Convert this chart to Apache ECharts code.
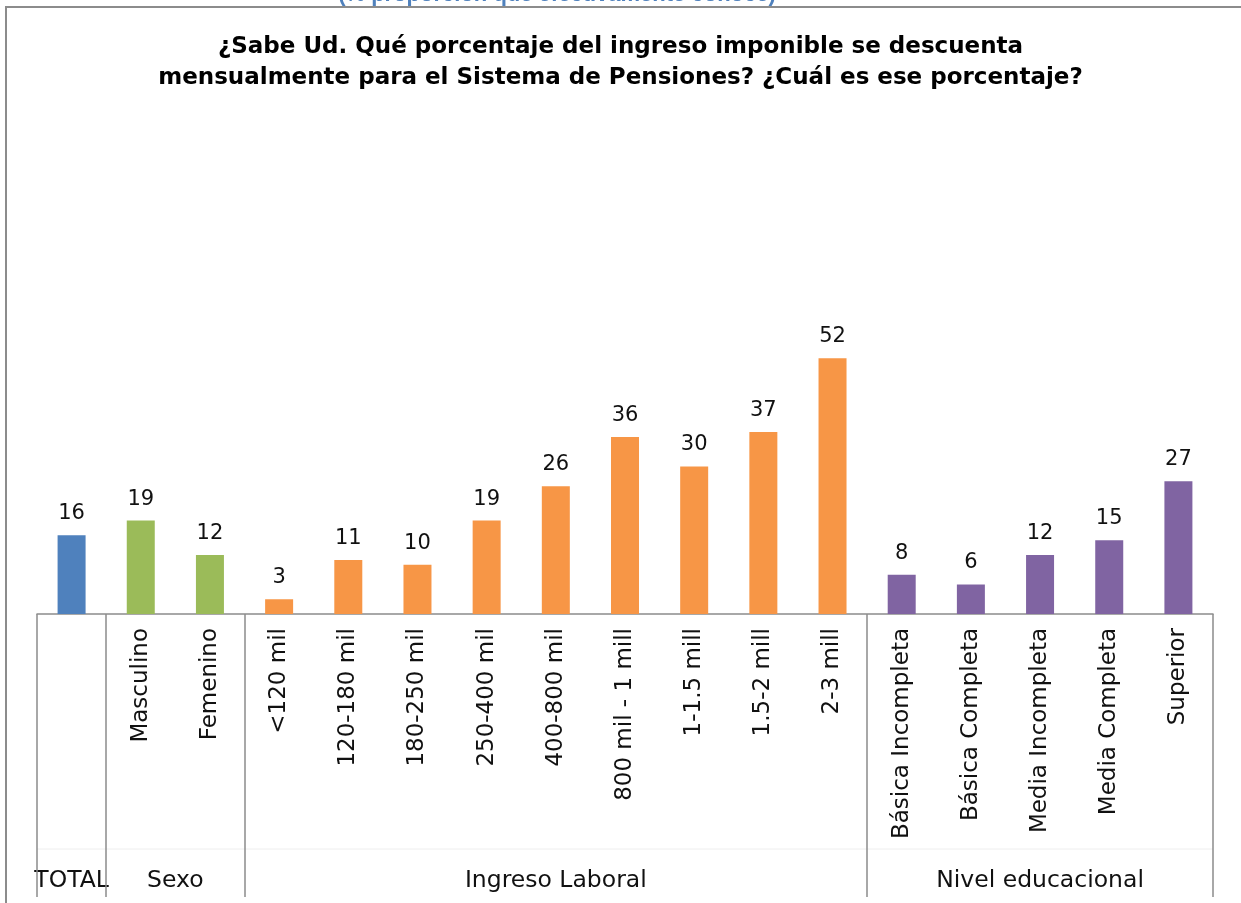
<!DOCTYPE html>
<html><head><meta charset="utf-8">
<script src="https://cdn.jsdelivr.net/npm/echarts@6/dist/echarts.min.js"></script>
<style>html,body{margin:0;padding:0;background:#fff}#c{width:1241px;height:903px}</style>
</head><body><div id="c"></div>
<script>
const categories = ['TOTAL','Masculino','Femenino','<120 mil','120-180 mil','180-250 mil','250-400 mil','400-800 mil','800 mil - 1 mill','1-1.5 mill','1.5-2 mill','2-3 mill','Básica Incompleta','Básica Completa','Media Incompleta','Media Completa','Superior'];
const values = [16,19,12,3,11,10,19,26,36,30,37,52,8,6,12,15,27];
const groupNames = ['TOTAL','Sexo','Ingreso Laboral','Nivel educacional'];
const groupStart = [0,1,3,12];
const groupEnd = [0,2,11,16];
const groupColors = ['#4F81BD','#9BBB59','#F79646','#8064A2'];
const titleText = '¿Sabe Ud. Qué porcentaje del ingreso imponible se descuenta\nmensualmente para el Sistema de Pensiones? ¿Cuál es ese porcentaje?';
const topText = '(% proporción que efectivamente conoce)';

function colorFor(i){ for(let g=0; g<groupStart.length; g++){ if(i>=groupStart[g] && i<=groupEnd[g]) return groupColors[g]; } return '#000'; }

const FONT = '"DejaVu Sans", sans-serif';
const chart = echarts.init(document.getElementById('c'), null, {renderer:'canvas'});
const option = {
  animation:false,
  backgroundColor:'#fff',
  title:{text:titleText,left:'center',top:27,textStyle:{fontFamily:'"DejaVu Sans", sans-serif',fontWeight:'bold',fontSize:23,lineHeight:31,color:'#000'}},
  grid:{left:37,right:28,top:319,bottom:289,containLabel:false},
  xAxis:{type:'category',data:categories,
    axisLine:{show:true,lineStyle:{color:'#8c8c8c',width:1.5}},
    axisTick:{show:true,length:283,lineStyle:{color:'#8c8c8c',width:1.5},interval:function(i){return groupStart.indexOf(i)>=0;}},
    axisLabel:{interval:0,rotate:90,margin:14,fontFamily:FONT,fontSize:23,color:'#111',
      formatter:function(v,i){const k=groupStart.indexOf(i);return (k>=0 && groupStart[k]===groupEnd[k]) ? '' : v;}}},
  yAxis:{type:'value',min:0,max:60,show:false,splitLine:{show:false}},
  series:[{type:'bar',barWidth:28,
    data:values.map((v,i)=>({value:v,itemStyle:{color:colorFor(i)}})),
    label:{show:true,position:'top',distance:11,fontFamily:FONT,fontSize:21,color:'#111'}}],
  graphic:[]
};
chart.setOption(option);

const g = [
  {type:'rect',shape:{x:6,y:7,width:1400,height:1200},style:{fill:null,stroke:'#8c8c8c',lineWidth:2},silent:true},
  {type:'text',style:{text:topText,x:557,y:6,align:'center',verticalAlign:'bottom',font:'bold 22px "Liberation Sans", Arial, sans-serif',fill:'#4F81BD'},silent:true},
  {type:'line',shape:{x1:37,y1:849,x2:1213,y2:849},style:{stroke:'#eeeeee',lineWidth:1},silent:true}
];
for(let k=0;k<groupNames.length;k++){
  const a = chart.convertToPixel({xAxisIndex:0}, groupStart[k]);
  const b = chart.convertToPixel({xAxisIndex:0}, groupEnd[k]);
  g.push({type:'text',style:{text:groupNames[k],x:(a+b)/2,y:881,align:'center',verticalAlign:'middle',font:'23.5px "DejaVu Sans", sans-serif',fill:'#111'},silent:true});
}
chart.setOption({graphic:g});
</script></body></html>
